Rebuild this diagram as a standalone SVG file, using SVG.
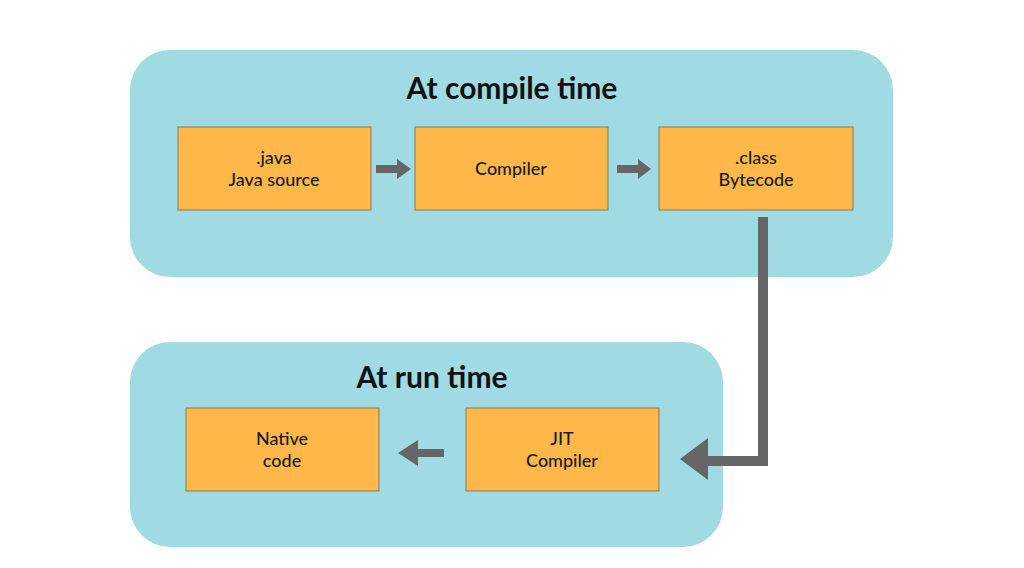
<svg xmlns="http://www.w3.org/2000/svg" width="1024" height="568" viewBox="0 0 1024 568">
<style>
.panel{fill:#a0dbe3}
.box{fill:#fdb849;stroke:#85795e;stroke-width:1}
.t{font-family:Lato,"Noto Sans",sans-serif;font-size:18px;font-weight:500;fill:#1a1a1a;text-anchor:middle}
.h{font-family:Lato,"Noto Sans",sans-serif;font-size:30px;font-weight:bold;fill:#111;text-anchor:middle}
.a{fill:#666}
</style>
<rect width="1024" height="568" fill="#fff"/>
<g id="compile-panel"><rect class="panel" x="130" y="50" width="763" height="227" rx="40"/><text class="h" x="512" y="99">At compile time</text></g>
<g id="run-panel"><rect class="panel" x="130" y="342" width="593" height="205" rx="40"/><text class="h" x="432" y="388">At run time</text></g>
<g id="java"><rect class="box" x="178" y="127" width="193" height="83"/><text class="t" x="274" y="164">.java</text><text class="t" x="274" y="186">Java source</text></g>
<g id="compiler"><rect class="box" x="415" y="127" width="193" height="83"/><text class="t" x="511" y="175">Compiler</text></g>
<g id="class"><rect class="box" x="659" y="127" width="194" height="83"/><text class="t" x="756" y="164">.class</text><text class="t" x="756" y="186">Bytecode</text></g>
<g id="native"><rect class="box" x="186" y="408" width="193" height="83"/><text class="t" x="282" y="445">Native</text><text class="t" x="282" y="467">code</text></g>
<g id="jit"><rect class="box" x="466" y="408" width="193" height="83"/><text class="t" x="562" y="445">JIT</text><text class="t" x="562" y="467">Compiler</text></g>
<g id="connectors">
<polygon class="a" points="376,165 397,165 397,159 411,169 397,179 397,173 376,173"/>
<polygon class="a" points="617,165 638,165 638,159 651,169 638,179 638,173 617,173"/>
<polygon class="a" points="758,217 768,217 768,466 708,466 708,480 680,459 708,438 708,456 758,456"/>
<polygon class="a" points="444,449 418,449 418,440 398,453 418,466 418,457 444,457"/>
</g>
</svg>
